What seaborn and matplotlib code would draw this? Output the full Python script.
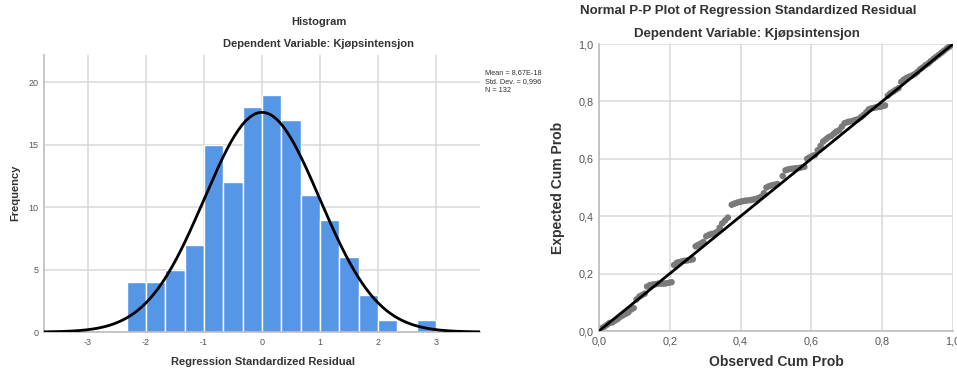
import numpy as np
import matplotlib
matplotlib.use("Agg")
import matplotlib.pyplot as plt
import seaborn as sns

# histogram of standardized residuals
bin_edges = [-2.333, -2.0, -1.667, -1.333, -1.0, -0.667, -0.333, 0.0, 0.333,
             0.667, 1.0, 1.333, 1.667, 2.0, 2.333, 2.667, 3.0]
bin_counts = [4, 4, 5, 7, 15, 12, 18, 19, 17, 11, 9, 6, 3, 1, 0, 1]
resid_mean = 8.67e-18
resid_sd = 0.996
n_obs = 132
hist_xticks = [-3, -2, -1, 0, 1, 2, 3]
hist_xlabels = ["-3", "-2", "-1", "0", "1", "2", "3"]
hist_yticks = [0, 5, 10, 15, 20]

# normal P-P plot points (observed vs expected cum prob)
observed = [0.008, 0.015, 0.023, 0.030, 0.038, 0.045, 0.053, 0.061, 0.068, 0.076,
            0.083, 0.091, 0.098, 0.106, 0.114, 0.121, 0.129,
            0.136, 0.144, 0.152, 0.159, 0.167, 0.174, 0.182, 0.189, 0.197, 0.205,
            0.212, 0.220, 0.227, 0.235, 0.242, 0.250, 0.258, 0.265,
            0.273, 0.280, 0.288, 0.295,
            0.303, 0.311, 0.318, 0.326, 0.333,
            0.341, 0.348, 0.356, 0.364,
            0.375, 0.383, 0.390, 0.398, 0.405, 0.413, 0.420, 0.428, 0.435,
            0.443, 0.450, 0.458, 0.466,
            0.473, 0.481, 0.489, 0.496, 0.504,
            0.519, 0.527, 0.534, 0.542, 0.550, 0.557, 0.565, 0.572, 0.580,
            0.588, 0.595, 0.603, 0.610,
            0.618, 0.626, 0.633, 0.641, 0.648, 0.656,
            0.664, 0.671, 0.679, 0.686, 0.694, 0.702, 0.709, 0.717, 0.724, 0.732,
            0.740, 0.747, 0.755, 0.762, 0.770, 0.778, 0.785, 0.793, 0.800, 0.808,
            0.816, 0.823, 0.831, 0.838, 0.846,
            0.854, 0.861, 0.869, 0.876, 0.884, 0.892, 0.899,
            0.907, 0.914, 0.922, 0.930, 0.937, 0.945, 0.952, 0.960, 0.968, 0.975,
            0.983, 0.990, 0.997]
expected = [0.010, 0.015, 0.022, 0.028, 0.030, 0.036, 0.042, 0.050, 0.055, 0.060,
            0.065, 0.075, 0.080, 0.110, 0.120, 0.125, 0.130,
            0.155, 0.160, 0.162, 0.163, 0.165, 0.165, 0.165, 0.166, 0.168, 0.170,
            0.230, 0.238, 0.240, 0.243, 0.245, 0.246, 0.248, 0.250,
            0.295, 0.300, 0.305, 0.310,
            0.330, 0.335, 0.338, 0.340, 0.345,
            0.360, 0.375, 0.385, 0.395,
            0.440, 0.444, 0.447, 0.450, 0.452, 0.454, 0.455, 0.456, 0.458,
            0.460, 0.463, 0.468, 0.480,
            0.500, 0.505, 0.508, 0.510, 0.512,
            0.540, 0.560, 0.563, 0.565, 0.566, 0.567, 0.568, 0.570, 0.572,
            0.600, 0.605, 0.610, 0.613,
            0.630, 0.645, 0.660, 0.668, 0.675, 0.680,
            0.688, 0.695, 0.700, 0.712, 0.724, 0.728, 0.730, 0.732, 0.735, 0.738,
            0.745, 0.752, 0.762, 0.772, 0.776, 0.778, 0.780, 0.781, 0.783, 0.786,
            0.820, 0.828, 0.834, 0.840, 0.846,
            0.868, 0.876, 0.882, 0.886, 0.890, 0.895, 0.902,
            0.912, 0.918, 0.926, 0.932, 0.940, 0.948, 0.955, 0.962, 0.970, 0.977,
            0.985, 0.991, 0.997]
pp_ticks = [0.0, 0.2, 0.4, 0.6, 0.8, 1.0]
pp_labels = ["0,0", "0,2", "0,4", "0,6", "0,8", "1,0"]

sns.set_style("white")
plt.rcParams['font.family'] = ['Liberation Sans', 'DejaVu Sans']

grid_col = "#d9d9d9"
tick_col = "#555555"
text_col = "#333333"

fig = plt.figure(figsize=(9.57, 3.72), dpi=100)
ax1 = fig.add_axes([0.046, 0.1075, 0.4556, 0.7446])
ax2 = fig.add_axes([0.6259, 0.1102, 0.3699, 0.7715])

# --- histogram
centers = [(a + b) / 2 for a, b in zip(bin_edges[:-1], bin_edges[1:])]
sns.histplot(x=centers, weights=bin_counts, bins=bin_edges, ax=ax1,
             color="#5596e6", alpha=1, edgecolor="white", linewidth=1.0, zorder=2)
xs = np.linspace(-3.76, 3.76, 400)
bw = bin_edges[1] - bin_edges[0]
curve = n_obs * bw * np.exp(-0.5 * ((xs - resid_mean) / resid_sd) ** 2) / (resid_sd * np.sqrt(2 * np.pi))
sns.lineplot(x=xs, y=curve, ax=ax1, color="black", linewidth=2.0, zorder=3)

ax1.set_xlim(-3.76, 3.76)
ax1.set_ylim(0, 22.2)
ax1.set_xticks(hist_xticks)
ax1.set_xticklabels(hist_xlabels)
ax1.set_yticks(hist_yticks)
ax1.set_xlabel("")
ax1.set_ylabel("")

# --- P-P plot
sns.scatterplot(x=observed, y=expected, ax=ax2, color="#7a7a7a", s=22,
                edgecolor="none", zorder=2)
ax2.axline((0, 0), slope=1, color="black", linewidth=2.0, zorder=3)
ax2.set_xlim(0, 1)
ax2.set_ylim(0, 1)
ax2.set_xticks(pp_ticks)
ax2.set_xticklabels(pp_labels)
ax2.set_yticks(pp_ticks)
ax2.set_yticklabels(pp_labels)

for ax, fs in [(ax1, 6.5), (ax2, 7.8)]:
    ax.grid(True, color=grid_col, linewidth=1.1, zorder=0)
    ax.set_axisbelow(True)
    for side in ["top", "right"]:
        ax.spines[side].set_visible(False)
    for side in ["left", "bottom"]:
        ax.spines[side].set_color("#bdbdbd")
        ax.spines[side].set_linewidth(1.2)
    ax.tick_params(axis="both", length=0, pad=4, labelsize=fs, labelcolor=tick_col)

# titles and labels (SPSS-style placement)
fig.text(0.333, 0.941, "Histogram", ha="center", va="center",
         fontsize=8, fontweight="bold", color=text_col)
fig.text(0.333, 0.882, "Dependent Variable: Kjøpsintensjon", ha="center", va="center",
         fontsize=8, fontweight="bold", color=text_col)
fig.text(0.275, 0.027, "Regression Standardized Residual", ha="center", va="center",
         fontsize=8, fontweight="bold", color=text_col)
fig.text(0.0157, 0.481, "Frequency", ha="center", va="center", rotation=90,
         fontsize=8, fontweight="bold", color=text_col)

fig.text(0.507, 0.804, "Mean = 8,67E-18", ha="left", va="center", fontsize=5.3, color=text_col)
fig.text(0.507, 0.781, "Std. Dev. = 0,996", ha="left", va="center", fontsize=5.3, color=text_col)
fig.text(0.507, 0.758, "N = 132", ha="left", va="center", fontsize=5.3, color=text_col)

fig.text(0.7816, 0.970, "Normal P-P Plot of Regression Standardized Residual",
         ha="center", va="center", fontsize=9.5, fontweight="bold", color=text_col)
fig.text(0.7806, 0.909, "Dependent Variable: Kjøpsintensjon", ha="center", va="center",
         fontsize=9.5, fontweight="bold", color=text_col)
fig.text(0.811, 0.027, "Observed Cum Prob", ha="center", va="center",
         fontsize=10, fontweight="bold", color=text_col)
fig.text(0.583, 0.495, "Expected Cum Prob", ha="center", va="center", rotation=90,
         fontsize=10, fontweight="bold", color=text_col)

fig.savefig("out.png", dpi=100)
